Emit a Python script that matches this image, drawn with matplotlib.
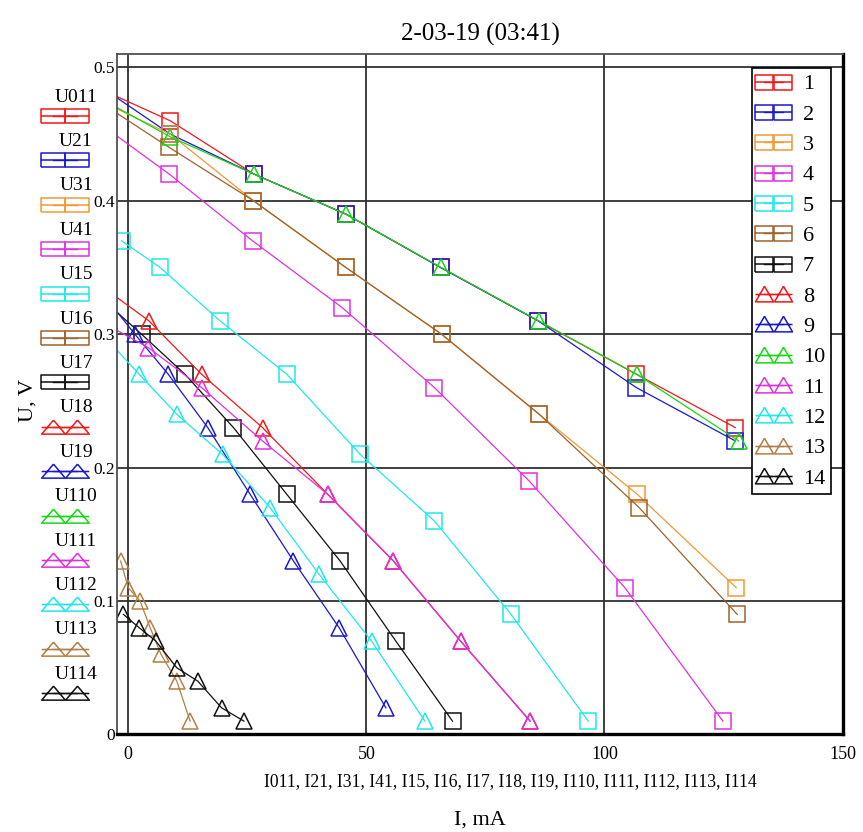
import matplotlib
matplotlib.use("Agg")
import matplotlib.pyplot as plt
from matplotlib.lines import Line2D
from matplotlib.path import Path

plt.rcParams['font.family'] = ['Liberation Serif', 'DejaVu Serif']

# ---- data (I in mA, U in V); first points lie just left of the frame ----
I_1 = [-6.0, 8.8, 26.4, 45.7, 65.6, 86.1, 106.7, 127.5]
U_1 = [0.484, 0.46, 0.42, 0.39, 0.35, 0.31, 0.27, 0.23]
I_2 = [-6.0, 8.8, 26.4, 45.7, 65.6, 86.1, 106.7, 127.5]
U_2 = [0.486, 0.45, 0.42, 0.39, 0.35, 0.31, 0.26, 0.22]
I_3 = [-6.0, 8.8, 26.3, 45.7, 65.8, 86.3, 106.9, 127.7]
U_3 = [0.475, 0.45, 0.40, 0.35, 0.30, 0.24, 0.18, 0.11]
I_4 = [-6.0, 8.6, 26.1, 44.9, 64.3, 84.2, 104.3, 124.9]
U_4 = [0.458, 0.42, 0.37, 0.32, 0.26, 0.19, 0.11, 0.01]
I_5 = [-1.4, 6.7, 19.3, 33.3, 48.7, 64.3, 80.4, 96.6]
U_5 = [0.37, 0.35, 0.31, 0.27, 0.21, 0.16, 0.09, 0.01]
I_6 = [-6.0, 8.6, 26.3, 45.7, 65.8, 86.3, 107.3, 127.9]
U_6 = [0.474, 0.44, 0.40, 0.35, 0.30, 0.24, 0.17, 0.09]
I_7 = [-6.0, 2.8, 11.9, 22.1, 33.3, 44.5, 56.2, 68.1]
U_7 = [0.328, 0.30, 0.27, 0.23, 0.18, 0.13, 0.07, 0.01]
I_8 = [-6.0, 4.35, 15.4, 28.2, 41.9, 55.7, 69.8, 84.4]
U_8 = [0.337, 0.31, 0.27, 0.23, 0.18, 0.13, 0.07, 0.01]
I_9 = [-6.0, 1.4, 8.4, 16.7, 25.6, 34.7, 44.3, 54.1]
U_9 = [0.333, 0.30, 0.27, 0.23, 0.18, 0.13, 0.08, 0.02]
I_10 = [-6.0, 8.8, 26.4, 45.7, 65.7, 86.2, 106.8, 128.2]
U_10 = [0.477, 0.448, 0.42, 0.39, 0.35, 0.31, 0.27, 0.22]
I_11 = [-6.0, 4.2, 15.4, 28.2, 41.9, 55.7, 69.8, 84.4]
U_11 = [0.31, 0.29, 0.26, 0.22, 0.18, 0.13, 0.07, 0.01]
I_12 = [-6.0, 2.3, 10.2, 19.8, 29.8, 40.1, 51.1, 62.3]
U_12 = [0.302, 0.27, 0.24, 0.21, 0.17, 0.12, 0.07, 0.01]
I_13 = [-1.6, 0.0, 2.5, 4.6, 6.9, 10.2, 13.0]
U_13 = [0.13, 0.11, 0.10, 0.08, 0.06, 0.04, 0.01]
I_14 = [-1.0, 2.3, 5.8, 10.2, 14.6, 19.6, 24.3]
U_14 = [0.09, 0.08, 0.07, 0.05, 0.04, 0.02, 0.01]

I_all = [I_1, I_2, I_3, I_4, I_5, I_6, I_7, I_8, I_9, I_10, I_11, I_12, I_13, I_14]
U_all = [U_1, U_2, U_3, U_4, U_5, U_6, U_7, U_8, U_9, U_10, U_11, U_12, U_13, U_14]
names = [str(k) for k in range(1, 15)]
u_names = ["U011", "U21", "U31", "U41", "U15", "U16", "U17",
           "U18", "U19", "U110", "U111", "U112", "U113", "U114"]
i_names = ["I011", "I21", "I31", "I41", "I15", "I16", "I17",
           "I18", "I19", "I110", "I111", "I112", "I113", "I114"]
colors = ['#f01818', '#1818d0', '#f09838', '#e030e0', '#20e8e8', '#a0602a', '#101010',
          '#f01818', '#1818d0', '#18d818', '#e030e0', '#20e8e8', '#b08048', '#101010']
kinds = ['s'] * 7 + ['^'] * 7

# legend glyphs: box / triangle with a bar through the middle
M, L = Path.MOVETO, Path.LINETO


def box_bar(w):
    return Path([(-w, -1), (w, -1), (w, 1), (-w, 1), (-w, -1), (-w, 0), (w, 0)],
                [M, L, L, L, L, M, L])


def tri_bar(w):
    return Path([(0, 1), (-w, -0.9), (w, -0.9), (0, 1), (-w, 0), (w, 0)],
                [M, L, L, L, M, L])


fig = plt.figure(figsize=(8.63, 8.32), dpi=100)
ax = fig.add_axes([0.1359, 0.1172, 0.8409, 0.8179])

for I, U, c, k in zip(I_all, U_all, colors, kinds):
    ax.plot(I, U, color=c, lw=0.9, marker=k, ms=11.5, mfc='none', mec=c, mew=1.1)

ax.set_xlim(-2.3, 150.1)
ax.set_ylim(0, 0.51)
ax.set_xticks([0, 50, 100, 150])
ax.set_yticks([0, 0.1, 0.2, 0.3, 0.4, 0.5])
ax.set_yticklabels(["0", "0.1", "0.2", "0.3", "0.4", "0.5"])
ax.tick_params(axis='x', length=0, pad=8, labelsize=13)
ax.tick_params(axis='y', length=0, pad=2, labelsize=12.5)
ax.grid(True, color='#303030', lw=1.3)
ax.set_axisbelow(True)
for s in ['left', 'top']:
    ax.spines[s].set_color('#505050')
    ax.spines[s].set_linewidth(1.3)
for s in ['right', 'bottom']:
    ax.spines[s].set_color('black')
    ax.spines[s].set_linewidth(2.4)

ax.set_title("2-03-19 (03:41)", fontsize=18, pad=10)

# right legend
handles = []
for c, k in zip(colors, kinds):
    mk = box_bar(1.25) if k == 's' else tri_bar(1.1)
    handles.append(Line2D([], [], color=c, lw=1.0, marker=mk, ms=13.5 if k == 's' else 13,
                          mfc='none', mec=c, mew=1.1))
leg = ax.legend(handles, names, loc='upper right', bbox_to_anchor=(0.983, 0.979),
                numpoints=2, handlelength=1.44, handletextpad=0.6, borderpad=0.25,
                labelspacing=0.44, fontsize=16, fancybox=False, edgecolor='black',
                framealpha=1, borderaxespad=0)
leg.get_frame().set_linewidth(1.2)

# left "U" key, laid out in pixel units
kax = fig.add_axes([0, 0, 1, 1])
kax.set_xlim(0, 863)
kax.set_ylim(832, 0)
kax.axis('off')
for n, (lab, c, k) in enumerate(zip(u_names, colors, kinds)):
    ym = 116 + 44.4 * n
    kax.text(76, ym - 19, lab, ha='center', va='center', fontsize=14)
    mk = box_bar(1.75) if k == 's' else tri_bar(1.6)
    kax.plot([52.5, 76.5], [ym, ym], color=c, lw=1.0, marker=mk, ms=17,
             mfc='none', mec=c, mew=1.1)

fig.text(28 / 863, 1 - 400 / 832, "U, V", rotation=90, ha='center', va='center', fontsize=16)
fig.text(510 / 863, 1 - 782 / 832, ", ".join(i_names), ha='center', va='center', fontsize=12.7)
fig.text(480 / 863, 1 - 820 / 832, "I, mA", ha='center', va='center', fontsize=16)

fig.savefig("out.png", dpi=100)
